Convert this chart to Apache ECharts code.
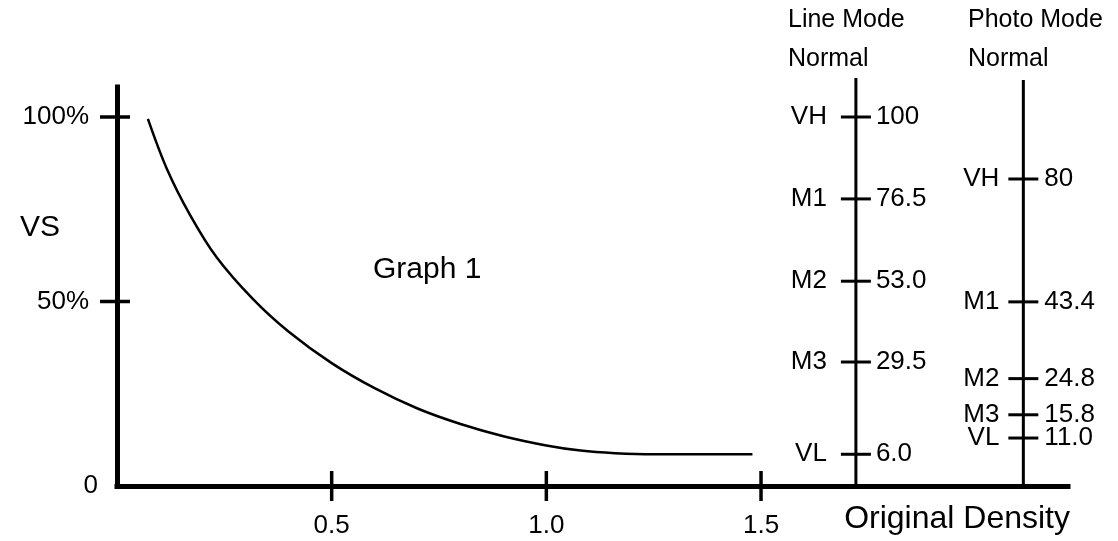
<!DOCTYPE html>
<html>
<head>
<meta charset="utf-8">
<script src="https://cdn.jsdelivr.net/npm/echarts@6/dist/echarts.min.js"></script>
<style>
  html, body { margin: 0; padding: 0; background: #fff; }
  #chart { width: 1118px; height: 541px; }
</style>
</head>
<body>
<div id="chart"></div>
<script>
// Graph 1: VS (%) against original density
const curveDensity = [0.072, 0.116, 0.170, 0.232, 0.318, 0.40, 0.50, 0.60, 0.70, 0.80, 0.90, 1.00, 1.08, 1.16, 1.25, 1.48];
const curveVS      = [99.5, 86.0, 73.5, 62.0, 50.5, 41.8, 33.3, 26.5, 21.0, 16.8, 13.5, 11.0, 9.6, 8.9, 8.6, 8.6];

// Axis ticks and labels
const densityTicks = [0.5, 1.0, 1.5];
const vsTicks = [50, 100];
const vsLabels = [0, 50, 100];

// Line Mode / Normal scale
const lineModeDensity = 1.721;
const lineModeTop = 110.6;
const lineModeNames  = ['VH', 'M1', 'M2', 'M3', 'VL'];
const lineModeValues = ['100', '76.5', '53.0', '29.5', '6.0'];
const lineModeVS     = [100, 77.8, 55.5, 33.6, 8.6];

// Photo Mode / Normal scale
const photoModeDensity = 2.111;
const photoModeTop = 110.0;
const photoModeNames  = ['VH', 'M1', 'M2', 'M3', 'VL'];
const photoModeValues = ['80', '43.4', '24.8', '15.8', '11.0'];
const photoModeVS     = [83.2, 49.9, 29.1, 19.3, 13.0];

const FONT = '"Liberation Sans", Arial, Helvetica, sans-serif';
const INK = '#000';

function scaleSeries(name, density, levels, names, values, leftGap, rightGap) {
  return {
    type: 'custom',
    name: name,
    data: levels.map(v => [density, v]),
    renderItem(params, api) {
      const p = api.coord([api.value(0), api.value(1)]);
      const i = params.dataIndex;
      return {
        type: 'group',
        children: [
          { type: 'line', shape: { x1: p[0] - 15, y1: p[1], x2: p[0] + 15, y2: p[1] },
            style: { stroke: INK, lineWidth: 3 } },
          { type: 'text', x: p[0] - leftGap, y: p[1],
            style: { text: names[i], align: 'right', verticalAlign: 'middle',
                     fontSize: 26, fontFamily: FONT, fill: INK } },
          { type: 'text', x: p[0] + rightGap, y: p[1],
            style: { text: values[i], align: 'left', verticalAlign: 'middle',
                     fontSize: 26, fontFamily: FONT, fill: INK } }
        ]
      };
    },
    silent: true,
    z: 4
  };
}

const chart = echarts.init(document.getElementById('chart'), null, { renderer: 'canvas' });

chart.setOption({
  animation: false,
  backgroundColor: '#fff',
  textStyle: { fontFamily: FONT },
  grid: { left: 117, right: 50, top: 87, bottom: 55, containLabel: false },
  xAxis: {
    type: 'value',
    min: 0,
    max: 2.215,
    axisLine: { show: true, lineStyle: { color: INK, width: 5, cap: 'square' } },
    axisTick: { show: false },
    splitLine: { show: false },
    axisLabel: {
      customValues: densityTicks,
      formatter: v => v.toFixed(1),
      fontSize: 26,
      fontFamily: FONT,
      color: INK,
      margin: 27
    }
  },
  yAxis: {
    type: 'value',
    min: 0,
    max: 108.13,
    axisLine: { show: true, lineStyle: { color: INK, width: 5, cap: 'square' } },
    axisTick: { show: false },
    splitLine: { show: false },
    axisLabel: {
      customValues: vsLabels,
      formatter: v => (v === 0 ? '{z|0}' : '{p|' + v + '%}'),
      margin: 19,
      color: INK,
      rich: {
        z: { fontSize: 26, fontFamily: FONT, color: INK },
        p: { fontSize: 26, fontFamily: FONT, color: INK, padding: [0, 9, 0, 0] }
      }
    }
  },
  series: [
    {
      type: 'line',
      name: 'Graph 1',
      data: curveDensity.map((d, i) => [d, curveVS[i]]),
      smooth: 0.35,
      showSymbol: false,
      lineStyle: { color: INK, width: 2.5 },
      silent: true,
      z: 3
    },
    // density ticks crossing the horizontal axis
    {
      type: 'custom',
      data: densityTicks.map(d => [d, 0]),
      renderItem(params, api) {
        const p = api.coord([api.value(0), api.value(1)]);
        return { type: 'line', shape: { x1: p[0], y1: p[1] - 15, x2: p[0], y2: p[1] + 15 },
                 style: { stroke: INK, lineWidth: 3.5 } };
      },
      silent: true,
      z: 5
    },
    // VS ticks crossing the vertical axis
    {
      type: 'custom',
      data: vsTicks.map(v => [0, v]),
      renderItem(params, api) {
        const p = api.coord([api.value(0), api.value(1)]);
        return { type: 'line', shape: { x1: p[0] - 17, y1: p[1], x2: p[0] + 13, y2: p[1] },
                 style: { stroke: INK, lineWidth: 3.5 } };
      },
      silent: true,
      z: 5
    },
    // vertical rules of the two mode scales
    {
      type: 'custom',
      data: [[lineModeDensity, lineModeTop], [photoModeDensity, photoModeTop]],
      renderItem(params, api) {
        const top = api.coord([api.value(0), api.value(1)]);
        const base = api.coord([api.value(0), 0]);
        return { type: 'line', shape: { x1: top[0], y1: top[1], x2: base[0], y2: base[1] },
                 style: { stroke: INK, lineWidth: 3 } };
      },
      silent: true,
      z: 4
    },
    scaleSeries('Line Mode', lineModeDensity, lineModeVS, lineModeNames, lineModeValues, 29, 20),
    scaleSeries('Photo Mode', photoModeDensity, photoModeVS, photoModeNames, photoModeValues, 24, 21)
  ],
  graphic: [
    { type: 'text', left: 20, top: 228 - 15,
      style: { text: 'VS', fontSize: 30, fontFamily: FONT, fill: INK } },
    { type: 'text', left: 373, top: 270 - 15,
      style: { text: 'Graph 1', fontSize: 30, fontFamily: FONT, fill: INK } },
    { type: 'text', right: 48, top: 519 - 16,
      style: { text: 'Original Density', fontSize: 32, fontFamily: FONT, fill: INK } },
    { type: 'text', left: 788, top: 21 - 13,
      style: { text: 'Line Mode', fontSize: 25, fontFamily: FONT, fill: INK } },
    { type: 'text', left: 788, top: 60 - 13,
      style: { text: 'Normal', fontSize: 25, fontFamily: FONT, fill: INK } },
    { type: 'text', left: 968, top: 21 - 13,
      style: { text: 'Photo Mode', fontSize: 25, fontFamily: FONT, fill: INK } },
    { type: 'text', left: 968, top: 60 - 13,
      style: { text: 'Normal', fontSize: 25, fontFamily: FONT, fill: INK } }
  ]
});
</script>
</body>
</html>
